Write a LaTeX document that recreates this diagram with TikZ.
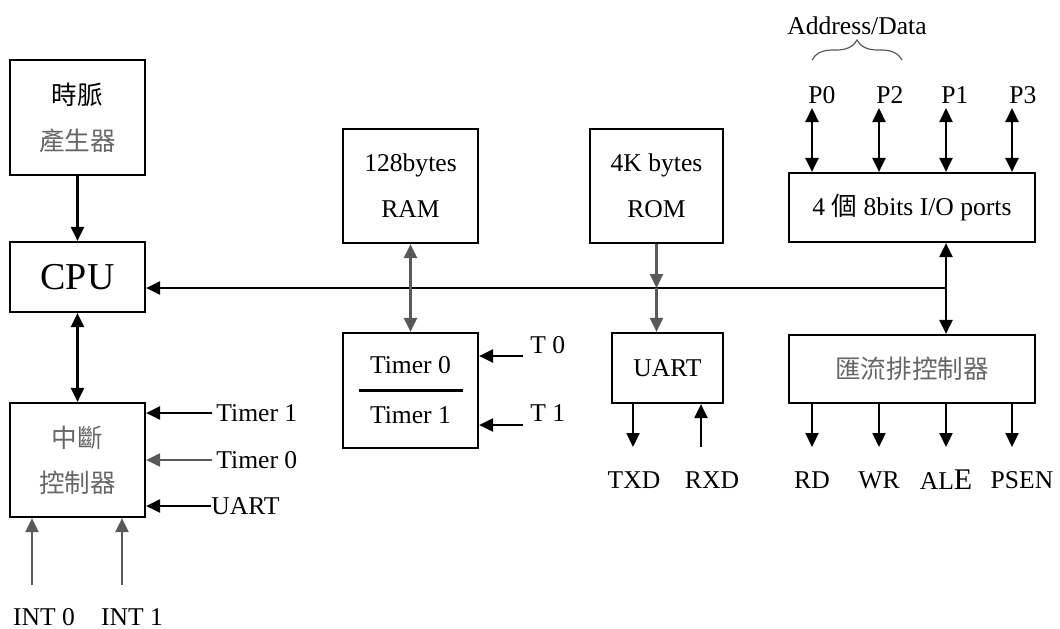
\documentclass[tikz,border=0pt]{standalone}
\usepackage{fontspec}
\setmainfont{Liberation Serif}
\newfontfamily\cjk{Noto Sans CJK TC}
\usetikzlibrary{arrows.meta,decorations.pathreplacing}
\definecolor{wiregray}{gray}{0.35}
\definecolor{cjkgray}{gray}{0.4}

\begin{document}
\begin{tikzpicture}[x=0.5pt,y=-0.5pt,
    blk/.style={draw,line width=1.1pt,inner sep=0pt,align=center,font=\fontsize{12.8}{23}\selectfont},
    arr/.style={line width=1.1pt,-{Triangle[length=7pt,width=6.5pt]}},
    darr/.style={line width=1.1pt,{Triangle[length=7pt,width=6.5pt]}-{Triangle[length=7pt,width=6.5pt]}},
    lbl/.style={inner sep=0pt,font=\fontsize{12.8}{15}\selectfont}]
        \useasboundingbox (0,0) rectangle (1060,628);
        % blocks
        \node[blk, minimum width=67.5pt, minimum height=57.5pt] (clock) at (77.5,117.5) {{\cjk 時脈}\\{\cjk\color{cjkgray} 產生器}};
        \node[blk, minimum width=67.5pt, minimum height=35pt, font=\fontsize{19}{22}\selectfont] (cpu) at (77.5,277) {CPU};
        \node[blk, minimum width=67.5pt, minimum height=57pt, font=\fontsize{12.8}{22.5}\selectfont] (intc) at (77.5,460) {{\cjk\color{cjkgray} 中斷}\\{\cjk\color{cjkgray} 控制器}};
        \node[blk, minimum width=67.5pt, minimum height=57pt] (ram) at (410.5,186) {128bytes\\RAM};
        \node[blk, minimum width=67.5pt, minimum height=57.5pt, font=\fontsize{12.8}{25}\selectfont] (timer) at (410.5,390.5) {Timer 0\\Timer 1};
        \node[blk, minimum width=66.5pt, minimum height=57pt] (rom) at (656.5,186) {4K bytes\\ROM};
        \node[blk, minimum width=55.5pt, minimum height=35pt] (uart) at (667.5,368) {UART};
        \node[blk, minimum width=123pt, minimum height=34.5pt] (io) at (912,207.5) {4 {\cjk 個} 8bits I/O ports};
        \node[blk, minimum width=123pt, minimum height=34pt] (busctrl) at (912,369) {{\cjk\color{cjkgray} 匯流排控制器}};
        \draw[line width=1.3pt] ([xshift=-26pt]timer.center) -- ([xshift=26pt]timer.center);

        % system bus
        \coordinate (bus) at (946,288);
        \draw[arr] (bus) -- (cpu.east |- bus);
        \draw[darr] (io.south -| bus) -- (busctrl.north -| bus);
        \draw[arr] (clock) -- (cpu);
        \draw[darr] (cpu) -- (intc);
        \draw[darr, wiregray] (ram) -- (timer);
        \draw[arr, wiregray] (rom.south) -- (rom.south |- bus);
        \draw[arr, wiregray] (rom.south |- bus) -- (uart.north -| rom.south);

        % interrupt sources
        \coordinate (tmo1) at (212,413);
        \coordinate (tmo0) at (212,460);
        \coordinate (sio) at (211,506);
        \node[lbl, anchor=west] (tmo1lbl) at (216,413) {Timer 1};
        \node[lbl, anchor=west] (tmo0lbl) at (216,460) {Timer 0};
        \node[lbl, anchor=west] (siolbl) at (211,506) {UART};
        \draw[arr] (tmo1) -- (intc.east |- tmo1);
        \draw[arr, wiregray] (tmo0) -- (intc.east |- tmo0);
        \draw[arr] (sio) -- (intc.east |- sio);
        \coordinate (int0) at (32,585);
        \coordinate (int1) at (122,585);
        \node[lbl] (int0lbl) at (44,617) {INT 0};
        \node[lbl] (int1lbl) at (132,617) {INT 1};
        \draw[arr, wiregray] (int0) -- (intc.south -| int0);
        \draw[arr, wiregray] (int1) -- (intc.south -| int1);

        % timer inputs
        \coordinate (t0) at (523,356);
        \coordinate (t1) at (523,425);
        \node[lbl, anchor=west] (t0lbl) at (530,345) {T 0};
        \node[lbl, anchor=west] (t1lbl) at (530,413) {T 1};
        \draw[arr] (t0) -- (timer.east |- t0);
        \draw[arr] (t1) -- (timer.east |- t1);

        % serial lines
        \coordinate (txd) at (633,447);
        \coordinate (rxd) at (701,447);
        \node[lbl] (txdlbl) at (634,480) {TXD};
        \node[lbl] (rxdlbl) at (712,480) {RXD};
        \draw[arr] (uart.south -| txd) -- (txd);
        \draw[arr] (rxd) -- (uart.south -| rxd);

        % ports
        \coordinate (p0) at (812,108);
        \coordinate (p2) at (879,108);
        \coordinate (p1) at (946,108);
        \coordinate (p3) at (1012,108);
        \node[lbl] (p0lbl) at (822,95) {P0};
        \node[lbl] (p2lbl) at (890,95) {P2};
        \node[lbl] (p1lbl) at (955,95) {P1};
        \node[lbl] (p3lbl) at (1023,95) {P3};
        \draw[darr] (p0) -- (io.north -| p0);
        \draw[darr] (p2) -- (io.north -| p2);
        \draw[darr] (p1) -- (io.north -| p1);
        \draw[darr] (p3) -- (io.north -| p3);
        \draw[decorate, decoration={brace, amplitude=10pt}, line width=0.6pt, wiregray] (812,60) -- (902,60);
        \node[lbl] (adlbl) at (857,26) {Address/Data};

        % control outputs
        \coordinate (rd) at (812,447);
        \coordinate (wr) at (879,447);
        \coordinate (ale) at (946,447);
        \coordinate (psen) at (1012,447);
        \node[lbl] (rdlbl) at (812,480) {RD};
        \node[lbl] (wrlbl) at (879,480) {WR};
        \node[lbl] (alelbl) at (946,480) {AL{\fontsize{15}{15}\selectfont E}};
        \node[lbl] (psenlbl) at (1022,480) {PSEN};
        \draw[arr] (busctrl.south -| rd) -- (rd);
        \draw[arr] (busctrl.south -| wr) -- (wr);
        \draw[arr] (busctrl.south -| ale) -- (ale);
        \draw[arr] (busctrl.south -| psen) -- (psen);
\end{tikzpicture}
\end{document}
